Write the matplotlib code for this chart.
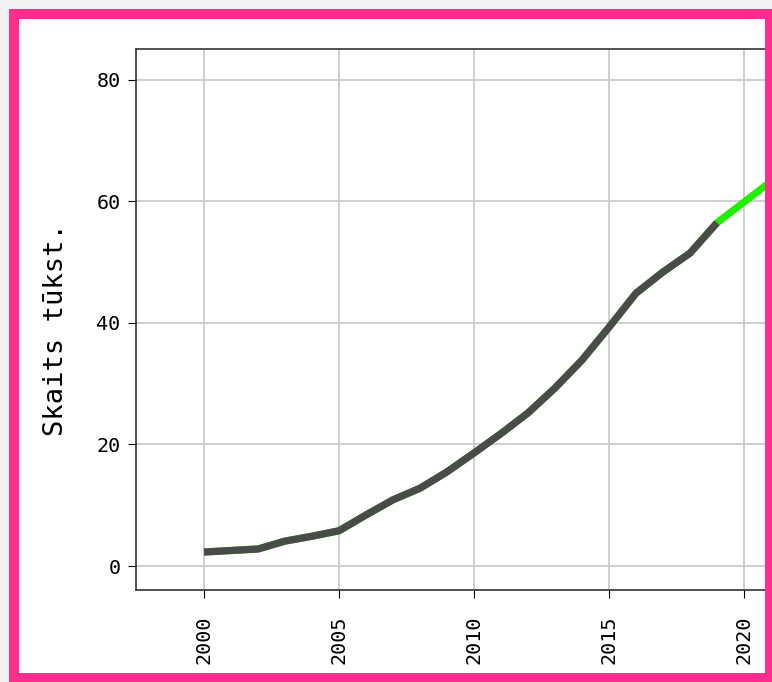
import matplotlib
matplotlib.use("Agg")
import matplotlib.pyplot as plt
from matplotlib.patches import Rectangle

plt.rcParams['font.family'] = ['DejaVu Sans Mono', 'DejaVu Sans']

# historical values (thousands)
years = [2000, 2002, 2003, 2004, 2005, 2006, 2007, 2008, 2009, 2010,
         2011, 2012, 2013, 2014, 2015, 2016, 2017, 2018, 2019]
values = [2.3, 2.8, 4.1, 4.9, 5.8, 8.4, 10.9, 12.8, 15.5, 18.6,
          21.8, 25.2, 29.3, 33.9, 39.3, 44.9, 48.4, 51.5, 56.5]
# forecast part (only the visible start)
fc_years = [2019, 2020, 2021]
fc_values = [56.5, 59.9, 63.3]

W, H = 772, 682
fig = plt.figure(figsize=(W / 100, H / 100), dpi=100)
fig.patch.set_facecolor('white')

# axes reach past the right edge of the picture
ax = fig.add_axes([136 / W, 92 / H, 1486 / W, 541 / H])
ax.plot(years + fc_years[1:], values + fc_values[1:], color='#22ee00', lw=5.2,
        solid_capstyle='butt', zorder=2)
ax.plot(years, values, color='#4a4a4a', lw=5.2, solid_capstyle='butt', zorder=3)

ax.set_xlim(1997.48, 2052.52)
ax.set_ylim(-3.95, 85.1)
ax.set_xticks(range(2000, 2055, 5))
ax.set_yticks([0, 20, 40, 60, 80])
ax.grid(True, color='#cccccc', lw=1.3)
ax.set_axisbelow(True)
for s in ax.spines.values():
    s.set_color('#333333')
    s.set_linewidth(1.2)

ax.tick_params(axis='x', labelrotation=90, labelsize=14.5, length=6, pad=12)
ax.tick_params(axis='y', labelsize=14.5, length=6, pad=5)
ax.set_ylabel('Skaits tūkst.', fontsize=19.5)
ax.yaxis.set_label_coords(-0.0451, 0.482)

# pink frame around the picture
pink = '#ff2d8c'
def frame(x0, y0, x1, y1, color):
    fig.add_artist(Rectangle((x0 / W, 1 - y1 / H), (x1 - x0) / W, (y1 - y0) / H,
                             transform=fig.transFigure, color=color, lw=0, zorder=10))

frame(0, 0, W, 9, '#f2f2f2')
frame(0, 0, 9, H, '#f2f2f2')
frame(9, 9, W, 19, pink)
frame(9, 9, 19, H, pink)
frame(9, 673, W, H, pink)
frame(765, 9, W, H, pink)

fig.savefig('out.png', dpi=100)
